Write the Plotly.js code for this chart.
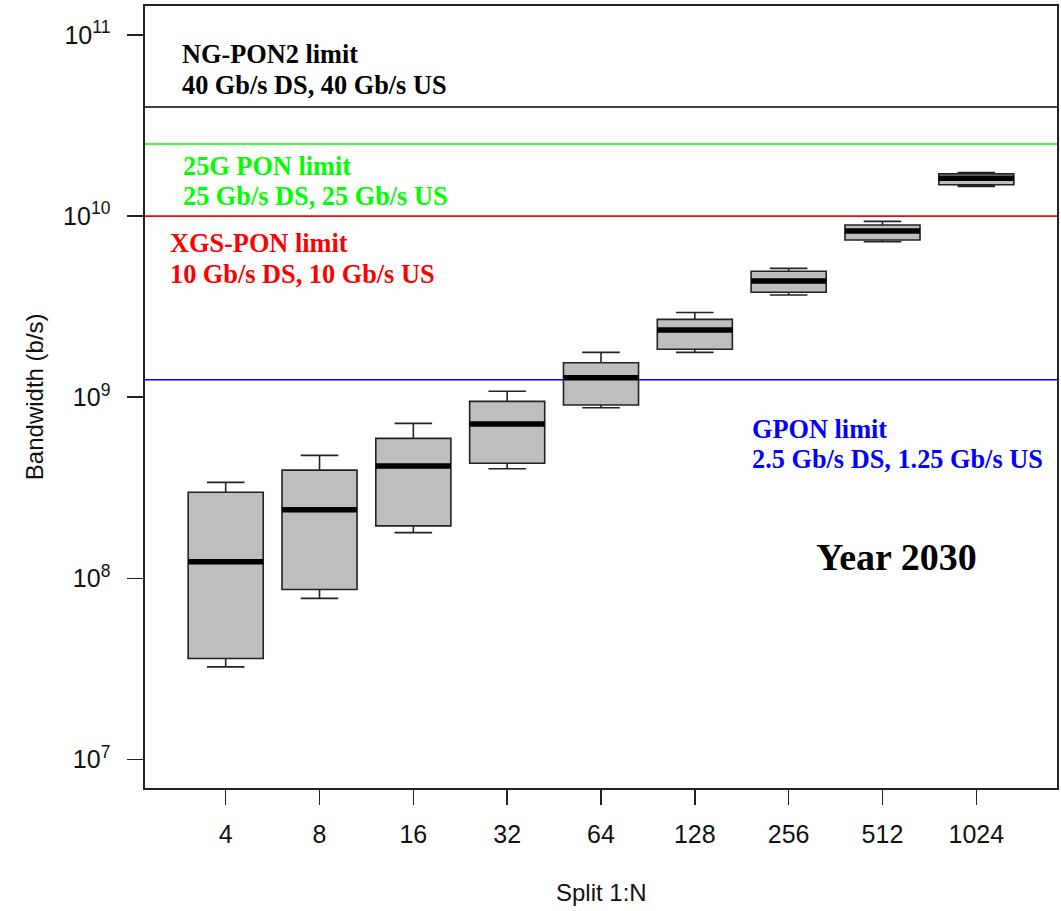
<!DOCTYPE html>
<html>
<head>
<meta charset="utf-8">
<script src="https://cdn.plot.ly/plotly-3.0.1.min.js"></script>
<style>html,body{margin:0;padding:0;background:#fff;}#chart{width:1061px;height:911px;}</style>
</head>
<body>
<div id="chart"></div>
<script>
// Data
const categories = ['4', '8', '16', '32', '64', '128', '256', '512', '1024'];
const lowerWhisker = [3.25e7, 7.76e7, 1.79e8, 4.03e8, 8.75e8, 1.77e9, 3.67e9, 7.22e9, 1.46e10];
const q1Values     = [3.61e7, 8.69e7, 1.95e8, 4.32e8, 9.06e8, 1.84e9, 3.80e9, 7.38e9, 1.49e10];
const medianValues = [1.236e8, 2.39e8, 4.17e8, 7.11e8, 1.28e9, 2.35e9, 4.38e9, 8.27e9, 1.62e10];
const q3Values     = [2.99e8, 3.96e8, 5.93e8, 9.49e8, 1.55e9, 2.69e9, 4.96e9, 8.94e9, 1.71e10];
const upperWhisker = [3.39e8, 4.78e8, 7.18e8, 1.08e9, 1.77e9, 2.94e9, 5.15e9, 9.36e9, 1.74e10];

const limitNames  = ['NG-PON2', '25G PON', 'XGS-PON', 'GPON'];
const limitValues = [4e10, 2.5e10, 1e10, 1.25e9];
const limitColors = ['#000000', '#00FF00', '#FF0000', '#0000FF'];
const limitLine1  = ['NG-PON2 limit', '25G PON limit', 'XGS-PON limit', 'GPON limit'];
const limitLine2  = ['40 Gb/s DS, 40 Gb/s US', '25 Gb/s DS, 25 Gb/s US', '10 Gb/s DS, 10 Gb/s US', '2.5 Gb/s DS, 1.25 Gb/s US'];
const yTickVals = [1e7, 1e8, 1e9, 1e10, 1e11];
const yTickText = ['10<sup>7</sup>', '10<sup>8</sup>', '10<sup>9</sup>', '10<sup>10</sup>', '10<sup>11</sup>'];
const yearLabel = 'Year 2030';

const xs = categories.map((c, i) => i + 1);
const halfW = 0.4;

const boxTrace = {
  type: 'box',
  x: xs,
  q1: q1Values,
  median: medianValues,
  q3: q3Values,
  lowerfence: lowerWhisker,
  upperfence: upperWhisker,
  width: 0.8,
  whiskerwidth: 0.5,
  fillcolor: '#BEBEBE',
  line: {color: '#222222', width: 1.6},
  boxpoints: false,
  hoverinfo: 'skip',
  showlegend: false
};

const medX = [], medY = [];
xs.forEach((x, i) => { medX.push(x - halfW, x + halfW, null); medY.push(medianValues[i], medianValues[i], null); });
const medianTrace = {
  type: 'scatter', mode: 'lines', x: medX, y: medY,
  line: {color: '#000000', width: 5.5}, hoverinfo: 'skip', showlegend: false
};

const shapes = limitValues.map((v, i) => ({
  type: 'line', xref: 'paper', x0: 0, x1: 1, yref: 'y', y0: v, y1: v,
  line: {color: limitColors[i], width: 1.6}, layer: 'below'
}));

const serif = 'Liberation Serif, Times New Roman, serif';
const textPos = [
  {x: 180, y1: 54, y2: 85},
  {x: 181, y1: 166, y2: 196},
  {x: 168, y1: 243, y2: 274},
  {x: 750, y1: 429, y2: 459}
];
const L = 145, R = 1057, T = 6, B = 787.7;
const px = v => (v - L) / (R - L);
const py = v => (B - v) / (B - T);
const annotations = [];
limitValues.forEach((v, i) => {
  [limitLine1[i], limitLine2[i]].forEach((t, k) => {
    annotations.push({
      text: '<b>' + t + '</b>', xref: 'paper', yref: 'paper', x: px(textPos[i].x), y: py(k ? textPos[i].y2 : textPos[i].y1),
      xanchor: 'left', yanchor: 'middle', showarrow: false,
      font: {family: serif, size: 26.3, color: limitColors[i]}
    });
  });
});
annotations.push({
  text: '<b>' + yearLabel + '</b>', xref: 'paper', yref: 'paper', x: px(896), y: py(557),
  xanchor: 'center', yanchor: 'middle', showarrow: false,
  font: {family: serif, size: 38, color: '#000000'}
});
annotations.push({
  text: 'Bandwidth (b/s)', xref: 'paper', yref: 'paper', x: px(34), y: py(397),
  xanchor: 'center', yanchor: 'middle', textangle: -90, showarrow: false,
  font: {family: 'Liberation Sans, Arial, sans-serif', size: 24, color: '#111'}
});
annotations.push({
  text: 'Split 1:N', xref: 'paper', yref: 'paper', x: px(601), y: py(892),
  xanchor: 'center', yanchor: 'middle', showarrow: false,
  font: {family: 'Liberation Sans, Arial, sans-serif', size: 24, color: '#111'}
});

const layout = {
  width: 1061, height: 911,
  margin: {l: L, r: 1061 - R, t: T, b: 911 - B, pad: 0},
  paper_bgcolor: '#ffffff', plot_bgcolor: '#ffffff',
  showlegend: false,
  xaxis: {
    range: [0.14, 9.86], tickvals: xs, ticktext: categories,
    showgrid: false, zeroline: false,
    showline: true, mirror: true, linecolor: '#222', linewidth: 1.6,
    ticks: 'outside', ticklen: 15, tickwidth: 1.6, tickcolor: '#222',
    ticklabelstandoff: 8,
    tickfont: {family: 'Liberation Sans, Arial, sans-serif', size: 25, color: '#111'}
  },
  yaxis: {
    type: 'log', range: [6.843, 11.16], tickvals: yTickVals, ticktext: yTickText,
    showgrid: false, zeroline: false,
    showline: true, mirror: true, linecolor: '#222', linewidth: 1.6,
    ticks: 'outside', ticklen: 16, tickwidth: 1.6, tickcolor: '#222',
    ticklabelstandoff: 12,
    tickfont: {family: 'Liberation Sans, Arial, sans-serif', size: 25, color: '#111'}
  },
  shapes: shapes,
  annotations: annotations
};

Plotly.newPlot('chart', [boxTrace, medianTrace], layout, {staticPlot: true, displayModeBar: false});
</script>
</body>
</html>
